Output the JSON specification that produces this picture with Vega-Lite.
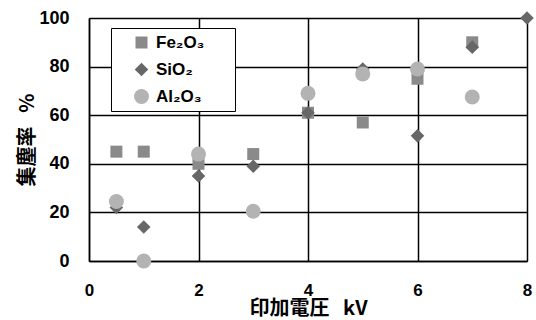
{
  "$schema": "https://vega.github.io/schema/vega-lite/v6.json",
  "width": 438,
  "height": 243,
  "autosize": "none",
  "padding": {"left": 89, "top": 18, "right": 9, "bottom": 59},
  "background": "white",
  "data": {
    "values": [
      {"kv": 0.5, "rate": 45, "s": "Fe₂O₃"},
      {"kv": 1, "rate": 45, "s": "Fe₂O₃"},
      {"kv": 2, "rate": 40, "s": "Fe₂O₃"},
      {"kv": 3, "rate": 44, "s": "Fe₂O₃"},
      {"kv": 4, "rate": 61, "s": "Fe₂O₃"},
      {"kv": 5, "rate": 57, "s": "Fe₂O₃"},
      {"kv": 6, "rate": 75, "s": "Fe₂O₃"},
      {"kv": 7, "rate": 90, "s": "Fe₂O₃"},
      {"kv": 0.5, "rate": 22, "s": "SiO₂"},
      {"kv": 1, "rate": 14, "s": "SiO₂"},
      {"kv": 2, "rate": 35, "s": "SiO₂"},
      {"kv": 3, "rate": 39, "s": "SiO₂"},
      {"kv": 4, "rate": 61, "s": "SiO₂"},
      {"kv": 5, "rate": 79, "s": "SiO₂"},
      {"kv": 6, "rate": 51.5, "s": "SiO₂"},
      {"kv": 7, "rate": 88, "s": "SiO₂"},
      {"kv": 8, "rate": 100, "s": "SiO₂"},
      {"kv": 0.5, "rate": 24.5, "s": "Al₂O₃"},
      {"kv": 1, "rate": 0, "s": "Al₂O₃"},
      {"kv": 2, "rate": 44, "s": "Al₂O₃"},
      {"kv": 3, "rate": 20.5, "s": "Al₂O₃"},
      {"kv": 4, "rate": 69, "s": "Al₂O₃"},
      {"kv": 5, "rate": 77, "s": "Al₂O₃"},
      {"kv": 6, "rate": 79, "s": "Al₂O₃"},
      {"kv": 7, "rate": 67.5, "s": "Al₂O₃"}
    ]
  },
  "mark": {"type": "point", "filled": true, "opacity": 1, "clip": false},
  "encoding": {
    "x": {
      "field": "kv", "type": "quantitative",
      "scale": {"domain": [0, 8], "nice": false},
      "axis": {
        "values": [0, 2, 4, 6, 8],
        "title": "印加電圧\u00a0\u00a0\u00a0kV",
        "titleFont": "Noto Sans CJK JP", "titleFontSize": 20, "titleFontWeight": "bold", "titleColor": "#000000",
        "titlePadding": 0,
        "labelFont": "Liberation Sans", "labelFontSize": 17, "labelFontWeight": "bold", "labelColor": "black",
        "labelPadding": 21, "labelFlush": false,
        "ticks": false, "domainColor": "black", "domainWidth": 1.5,
        "grid": true, "gridColor": "black", "gridWidth": 1.5, "gridOpacity": 1
      }
    },
    "y": {
      "field": "rate", "type": "quantitative",
      "scale": {"domain": [0, 100], "nice": false},
      "axis": {
        "values": [0, 20, 40, 60, 80, 100],
        "title": "集塵率\u00a0\u00a0\u00a0%",
        "titleFont": "Noto Sans CJK JP", "titleFontSize": 20, "titleFontWeight": "bold", "titleColor": "#000000",
        "titlePadding": 1,
        "labelFont": "Liberation Sans", "labelFontSize": 18, "labelFontWeight": "bold", "labelColor": "black",
        "labelPadding": 20, "labelFlush": false,
        "ticks": false, "domainColor": "black", "domainWidth": 1.5,
        "grid": true, "gridColor": "black", "gridWidth": 1.5, "gridOpacity": 1
      }
    },
    "shape": {
      "field": "s", "type": "nominal",
      "scale": {"domain": ["Fe₂O₃", "SiO₂", "Al₂O₃"], "range": ["square", "diamond", "circle"]},
      "legend": null
    },
    "size": {
      "field": "s", "type": "nominal",
      "scale": {"domain": ["Fe₂O₃", "SiO₂", "Al₂O₃"], "range": [144, 225, 115]},
      "legend": null
    },
    "color": {
      "field": "s", "type": "nominal",
      "scale": {"domain": ["Fe₂O₃", "SiO₂", "Al₂O₃"], "range": ["#8a8a8a", "#676767", "#b3b3b3"]},
      "legend": {
        "title": null,
        "orient": "none", "legendX": 22, "legendY": 10,
        "strokeColor": "black", "fillColor": "white", "padding": 6,
        "symbolOffset": 16,
        "labelFont": "Liberation Sans", "labelFontSize": 17, "labelFontWeight": "bold", "labelColor": "black",
        "labelExpr": "datum.label + '\u2800\u2800'",
        "symbolSize": 120, "rowPadding": 9, "labelOffset": 6
      }
    }
  },
  "config": {"view": {"stroke": null}}
}
